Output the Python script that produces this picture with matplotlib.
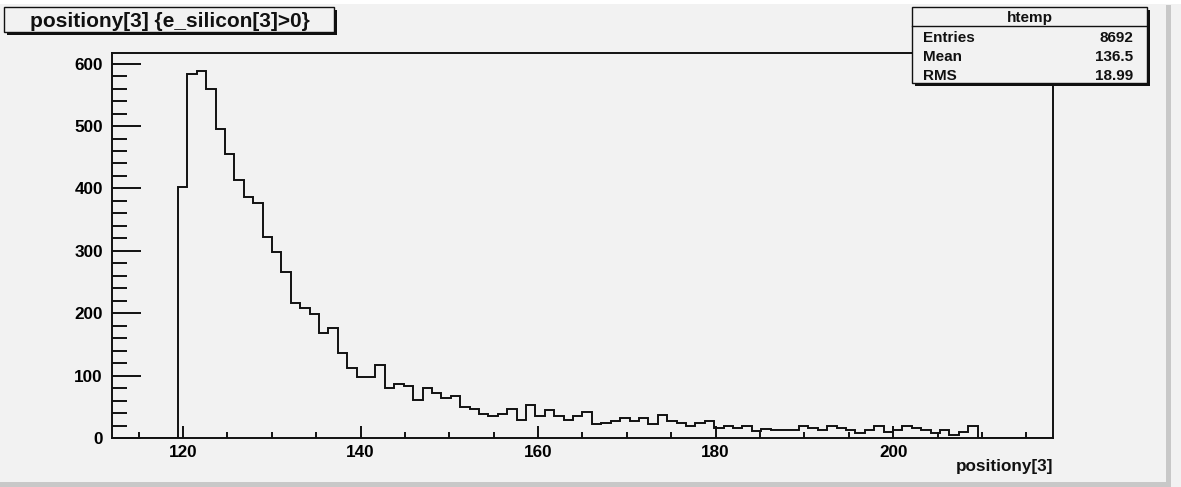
import matplotlib
matplotlib.use("Agg")
import matplotlib.pyplot as plt
from matplotlib.patches import Rectangle
from matplotlib.lines import Line2D
from matplotlib.ticker import MultipleLocator
import numpy as np

# ---- data (ROOT htemp: 100 bins from 112 to 218) ----
x_min = 112.0
x_max = 218.0
n_bins = 100
first_filled_bin = 7
counts_filled = [
    402, 584, 588, 560, 495, 455, 413, 386, 377, 323,
    298, 267, 216, 208, 199, 168, 177, 137, 112, 98,
    98, 118, 81, 87, 84, 61, 81, 73, 64, 67,
    50, 47, 39, 36, 39, 47, 30, 53, 36, 45,
    36, 30, 36, 42, 23, 25, 28, 33, 28, 33,
    23, 37, 28, 25, 20, 25, 28, 16, 20, 16,
    20, 11, 15, 13, 13, 13, 20, 16, 13, 20,
    16, 13, 9, 13, 20, 10, 14, 20, 17, 14,
    9, 13, 6, 10, 20,
]
title_text = "positiony[3] {e_silicon[3]>0}"
x_label = "positiony[3]"
stats_name = "htemp"
stats_labels = ["Entries", "Mean", "RMS"]
stats_values = ["8692", "136.5", "18.99"]
x_major = [120, 140, 160, 180, 200]
y_major = [0, 100, 200, 300, 400, 500, 600]

# ---- build histogram ----
counts = np.zeros(n_bins)
counts[first_filled_bin:first_filled_bin + len(counts_filled)] = counts_filled
edges = np.linspace(x_min, x_max, n_bins + 1)

W, H = 1181, 487
BG = "#f2f2f2"
FONT = "Liberation Sans"

fig = plt.figure(figsize=(W / 100, H / 100), dpi=100, facecolor=BG)

def fx(px):
    return px / W

def fy(py):
    return 1 - py / H

# canvas bevel
fig.add_artist(Rectangle((0, fy(4)), 1, 4 / H, transform=fig.transFigure,
                         facecolor="white", edgecolor="none", zorder=0))
fig.add_artist(Rectangle((fx(1166), fy(482)), 5 / W, (482 - 5) / H, transform=fig.transFigure,
                         facecolor="#c8c8c8", edgecolor="none", zorder=0))
fig.add_artist(Rectangle((0, 0), fx(1171), 5 / H, transform=fig.transFigure,
                         facecolor="#c8c8c8", edgecolor="none", zorder=0))

ax_l, ax_r, ax_t, ax_b = 112, 1053, 52.7, 438.3
ax = fig.add_axes([fx(ax_l), fy(ax_b), (ax_r - ax_l) / W, (ax_b - ax_t) / H])
ax.set_facecolor(BG)

ax.stairs(counts, edges, color="#111111", linewidth=1.4, baseline=0)
ax.set_xlim(x_min, x_max)
ax.set_ylim(0, 1.05 * counts.max())

for s in ax.spines.values():
    s.set_linewidth(1.4)
    s.set_color("#111111")

ax.set_xticks(x_major)
ax.set_yticks(y_major)
ax.xaxis.set_minor_locator(MultipleLocator(5))
ax.yaxis.set_minor_locator(MultipleLocator(20))
ax.tick_params(axis="y", which="major", direction="in", length=21, width=1.4, pad=6.5,
               labelsize=12.3, color="#111111")
ax.tick_params(axis="y", which="minor", direction="in", length=10.8, width=1.4, color="#111111")
ax.tick_params(axis="x", which="major", direction="in", length=8.3, width=1.4, pad=5,
               labelsize=12.3, color="#111111")
ax.tick_params(axis="x", which="minor", direction="in", length=4.2, width=1.4, color="#111111")
for lab in ax.get_xticklabels() + ax.get_yticklabels():
    lab.set_fontfamily(FONT)
    lab.set_fontweight("bold")

fig.text(fx(1053), fy(471), x_label, ha="right", va="baseline", fontsize=12.3,
         fontweight="bold", family=FONT, color="#111111")

# title box
tb = (4, 7.3, 334, 32.3)
fig.add_artist(Rectangle((fx(tb[0] + 3), fy(tb[3] + 3)), (tb[2] - tb[0]) / W, (tb[3] - tb[1]) / H,
                         transform=fig.transFigure, facecolor="#111111", edgecolor="none", zorder=5))
fig.add_artist(Rectangle((fx(tb[0]), fy(tb[3])), (tb[2] - tb[0]) / W, (tb[3] - tb[1]) / H,
                         transform=fig.transFigure, facecolor=BG, edgecolor="#111111",
                         linewidth=1.0, zorder=6))
fig.text(fx((tb[0] + tb[2]) / 2 + 1), fy((tb[1] + tb[3]) / 2), title_text, ha="center",
         va="center_baseline", fontsize=15, fontweight="bold", family=FONT, color="#111111", zorder=7)

# stats box
sb = (911.7, 7.3, 1147.3, 83.3)
fig.add_artist(Rectangle((fx(sb[0] + 3), fy(sb[3] + 3)), (sb[2] - sb[0]) / W, (sb[3] - sb[1]) / H,
                         transform=fig.transFigure, facecolor="#111111", edgecolor="none", zorder=5))
fig.add_artist(Rectangle((fx(sb[0]), fy(sb[3])), (sb[2] - sb[0]) / W, (sb[3] - sb[1]) / H,
                         transform=fig.transFigure, facecolor=BG, edgecolor="#111111",
                         linewidth=1.0, zorder=6))
fig.add_artist(Line2D([fx(sb[0]), fx(sb[2])], [fy(26), fy(26)], transform=fig.transFigure,
                      color="#111111", linewidth=1.0, zorder=7))
fig.text(fx((sb[0] + sb[2]) / 2), fy(16.7), stats_name, ha="center", va="center_baseline",
         fontsize=11, fontweight="bold", family=FONT, color="#111111", zorder=8)
row_y = [36.7, 55.7, 75.0]
for lab, val, yy in zip(stats_labels, stats_values, row_y):
    fig.text(fx(923.3), fy(yy), lab, ha="left", va="center_baseline", fontsize=11,
             fontweight="bold", family=FONT, color="#111111", zorder=8)
    fig.text(fx(1133.3), fy(yy), val, ha="right", va="center_baseline", fontsize=11,
             fontweight="bold", family=FONT, color="#111111", zorder=8)

fig.savefig("out.png", dpi=100, facecolor=BG)
